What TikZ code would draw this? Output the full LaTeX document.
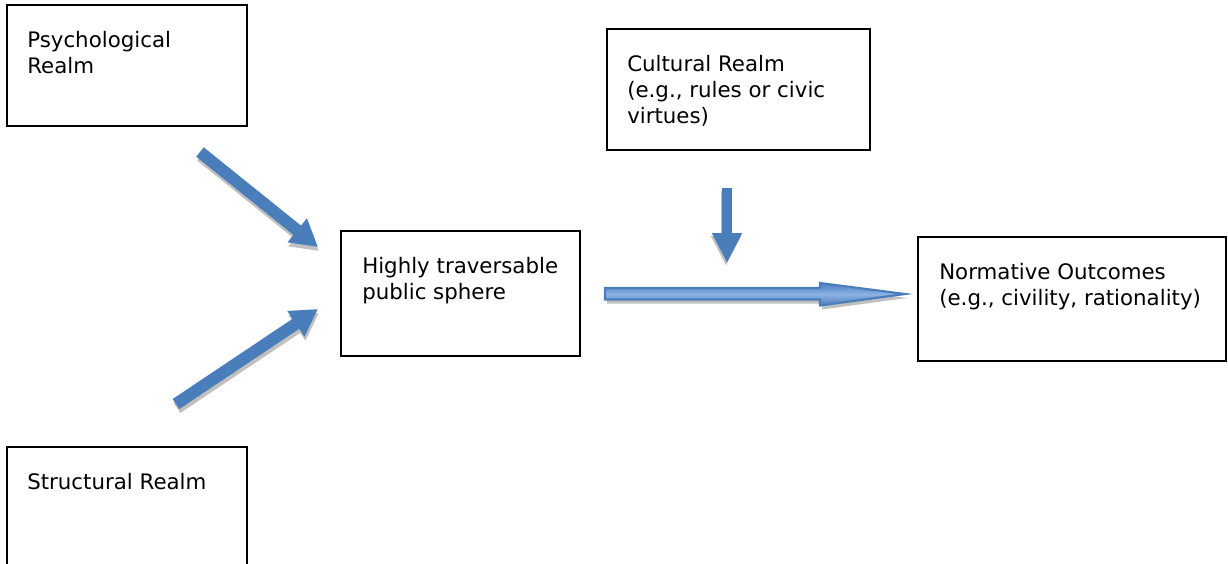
\documentclass[tikz,border=0pt]{standalone}
\usepackage{fontspec}
\setmainfont{DejaVu Sans}
\usetikzlibrary{arrows.meta}

\definecolor{arrowblue}{RGB}{74,126,187}
\definecolor{arrowlight}{RGB}{140,178,228}
\definecolor{shadowgray}{RGB}{192,192,192}

\begin{document}
\begin{tikzpicture}[x=0.75pt,y=-0.75pt,
	realm/.style={draw,line width=1.1pt,anchor=north west,inner sep=0pt,outer sep=0pt},
	realmtext/.style={anchor=north west,inner sep=0pt,align=left,font=\fontsize{16}{19.5}\selectfont},
	flowarrow/.style={line width=9pt,arrowblue,-{Triangle[width=21.75pt,length=20pt]}},
	flowshadow/.style={flowarrow,shadowgray}]

			\useasboundingbox (0,0) rectangle (1228,564);
			\clip (0,0) rectangle (1228,564);

			% boxes
			\node[realm,minimum width=180pt,minimum height=90.75pt] (psych) at (7,5) {};
			\node[realm,minimum width=197.25pt,minimum height=90.75pt] (cultural) at (607,29) {};
			\node[realm,minimum width=179.25pt,minimum height=93.75pt] (sphere) at (341,231) {};
			\node[realm,minimum width=231pt,minimum height=93pt] (outcomes) at (918,237) {};
			\node[realm,minimum width=180pt,minimum height=112.5pt] (structural) at (7,447) {};

			%labels boxes
			\node[realmtext] (psych text) at ([shift={(20,26)}]psych.north west) {Psychological\\Realm};
			\node[realmtext] (cultural text) at ([shift={(20,26)}]cultural.north west) {Cultural Realm\\(e.g., rules or civic\\virtues)};
			\node[realmtext] (sphere text) at ([shift={(21,26)}]sphere.north west) {Highly traversable\\public sphere};
			\node[realmtext] (outcomes text) at ([shift={(21,26)}]outcomes.north west) {Normative Outcomes\\(e.g., civility, rationality)};
			\node[realmtext] (structural text) at ([shift={(20,26)}]structural.north west) {Structural Realm};

			% arrow ends
			\coordinate (psych tail) at (200,152);
			\coordinate (psych tip) at (318,247);
			\coordinate (structural tail) at (176,404);
			\coordinate (structural tip) at (318,309);
			\coordinate (cultural tail) at (727,188);
			\coordinate (cultural tip) at (727,263);
			\coordinate (main tail) at (605,294);
			\coordinate (main tip) at (905,294);

			% shadows
			\begin{scope}[transform canvas={shift={(1,4)}}]
			\draw[flowshadow] (psych tail) -- (psych tip);
			\draw[flowshadow] (structural tail) -- (structural tip);
			\end{scope}
			\begin{scope}[transform canvas={shift={(-1,3)}}]
			\draw[flowshadow,-{Triangle[width=21pt,length=22.5pt]},line width=7.5pt] (cultural tail) -- (cultural tip);
			\end{scope}
			\begin{scope}[transform canvas={shift={(2,4)}}]
			\fill[shadowgray] (main tail) ++(0,-6) -- ++(215,0) -- ++(0,-5) -- (main tip) -- ++(-85,11.5) -- ++(0,-6) -- ++(-215,0) -- cycle;
			\end{scope}

			% arrows
			\draw[flowarrow] (psych tail) -- (psych tip);
			\draw[flowarrow] (structural tail) -- (structural tip);
			\draw[flowarrow,-{Triangle[width=21pt,length=22.5pt]},line width=7.5pt] (cultural tail) -- (cultural tip);
			\draw[draw=arrowblue,line width=1.6pt,top color=arrowblue,bottom color=arrowblue,middle color=arrowlight]
				(main tail) ++(0,-6) -- ++(215,0) -- ++(0,-5) -- (main tip) -- ++(-85,11.5) -- ++(0,-6) -- ++(-215,0) -- cycle;

\end{tikzpicture}
\end{document}
